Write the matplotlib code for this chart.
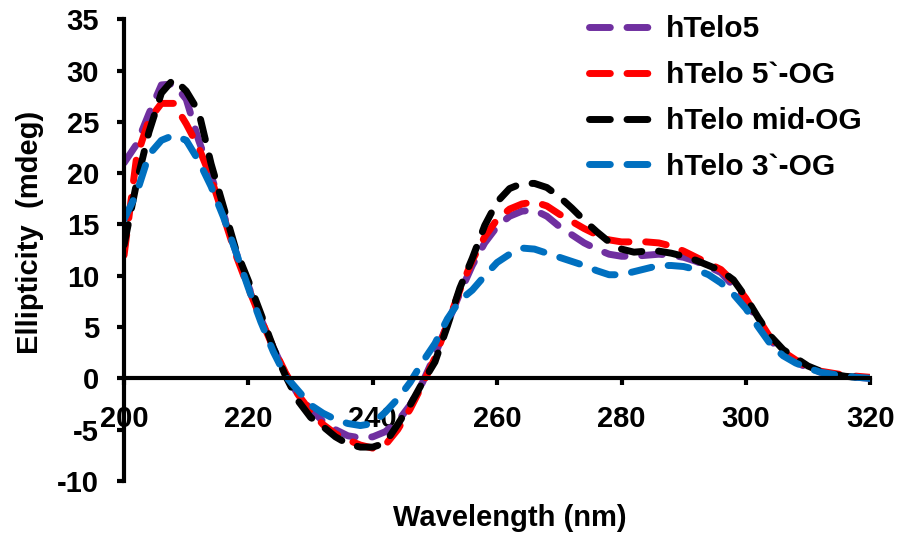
import matplotlib
matplotlib.use("Agg")
import matplotlib.pyplot as plt

plt.rcParams['font.family'] = ['Liberation Sans', 'DejaVu Sans']
plt.rcParams['font.weight'] = 'bold'
plt.rcParams['axes.unicode_minus'] = False

wavelength = list(range(200, 322, 2))

htelo5 = [21.0, 22.8, 25.8, 28.6, 28.7, 27.2, 23.2, 19.8, 16.0, 12.3,
          9.0, 5.8, 3.0, 0.4, -1.6, -3.0, -4.2, -5.0, -5.6, -5.8,
          -5.7, -5.2, -4.2, -2.6, -0.4, 2.3, 5.3, 8.3, 11.0, 13.2,
          14.8, 15.8, 16.3, 16.4, 15.8, 14.8, 14.0, 13.2, 12.6, 12.1,
          11.9, 11.9, 12.0, 12.1, 12.0, 11.8, 11.4, 10.9, 10.3, 9.0,
          7.5, 5.6, 3.7, 2.4, 1.6, 1.0, 0.6, 0.4, 0.2, 0.1, 0.0]

htelo_5og = [12.0, 21.5, 25.2, 26.8, 26.8, 24.8, 22.5, 19.5, 15.8, 12.0,
             8.8, 5.8, 3.0, 0.5, -1.6, -3.2, -4.5, -5.4, -6.0, -6.5,
             -6.8, -6.5, -5.0, -3.0, -0.6, 2.0, 5.3, 8.6, 11.5, 13.8,
             15.5, 16.5, 17.0, 17.2, 16.8, 16.0, 15.3, 14.6, 14.0, 13.5,
             13.3, 13.3, 13.3, 13.2, 12.9, 12.4, 11.8, 11.2, 10.6, 9.4,
             7.8, 5.8, 3.9, 2.6, 1.8, 1.1, 0.7, 0.5, 0.3, 0.2, 0.1]

htelo_mid_og = [13.0, 19.0, 24.0, 27.8, 29.2, 28.0, 26.0, 20.9, 16.7, 12.5,
                9.5, 6.3, 3.0, 0.2, -2.2, -3.8, -4.7, -5.7, -6.4, -6.7,
                -6.7, -6.3, -4.5, -2.6, -0.4, 1.6, 5.1, 8.8, 11.7, 14.9,
                17.2, 18.5, 19.0, 19.0, 18.6, 17.7, 16.6, 15.4, 14.3, 13.3,
                12.6, 12.3, 12.4, 12.4, 12.2, 11.9, 11.5, 11.0, 10.5, 9.6,
                7.9, 5.9, 4.1, 2.8, 2.0, 1.2, 0.7, 0.4, 0.2, 0.1, 0.0]

htelo_3og = [15.5, 18.0, 21.8, 23.2, 23.7, 23.2, 21.2, 18.7, 15.7, 12.3,
             8.8, 5.5, 2.6, 0.2, -1.2, -2.6, -3.4, -4.0, -4.4, -4.6,
             -4.4, -3.3, -2.0, -0.4, 1.6, 3.4, 5.8, 7.6, 8.6, 10.0,
             11.3, 12.1, 12.7, 12.6, 12.2, 11.8, 11.4, 11.0, 10.5, 10.1,
             10.1, 10.4, 10.7, 11.0, 11.0, 10.9, 10.6, 10.1, 9.3, 8.2,
             6.8, 5.0, 3.3, 2.2, 1.5, 1.0, 0.6, 0.4, 0.2, 0.1, 0.0]

series = [
    ("hTelo5", htelo5, "#7030A0"),
    ("hTelo 5`-OG", htelo_5og, "#FF0000"),
    ("hTelo mid-OG", htelo_mid_og, "#000000"),
    ("hTelo 3`-OG", htelo_3og, "#0070C0"),
]

fig = plt.figure(figsize=(8.99, 5.35), dpi=100)
ax = fig.add_axes([0.138, 0.101, 0.830, 0.863])

for name, vals, color in series:
    ax.plot(wavelength, vals, color=color, lw=5.0, linestyle=(0, (3.0, 2.4)),
            dash_capstyle='round', solid_capstyle='round', label=name)

ax.set_xlim(200, 320)
ax.set_ylim(-10, 35)
ax.set_xticks(range(200, 321, 20))
ax.set_yticks(range(-10, 36, 5))

for s in ('top', 'right'):
    ax.spines[s].set_visible(False)
ax.spines['bottom'].set_position(('data', 0))
ax.spines['left'].set_linewidth(3)
ax.spines['bottom'].set_linewidth(3)

ax.tick_params(axis='both', direction='out', length=5, width=3,
               labelsize=21)
ax.tick_params(axis='x', pad=14)
ax.tick_params(axis='y', pad=13)
for lab in ax.get_xticklabels() + ax.get_yticklabels():
    lab.set_fontweight('bold')

fig.text(0.567, 0.032, "Wavelength (nm)", ha='center', va='center',
         fontsize=21, fontweight='bold')
fig.text(0.033, 0.566, "Ellipticity  (mdeg)", ha='center', va='center',
         rotation=90, fontsize=21, fontweight='bold')

leg = ax.legend(loc='upper left', bbox_to_anchor=(0.6424, 0.994),
                bbox_transform=fig.transFigure, frameon=False,
                prop={'size': 21.5, 'weight': 'bold'}, handlelength=2.05,
                handletextpad=0.5, labelspacing=0.6, borderaxespad=0)

fig.savefig("out.png", dpi=100)
